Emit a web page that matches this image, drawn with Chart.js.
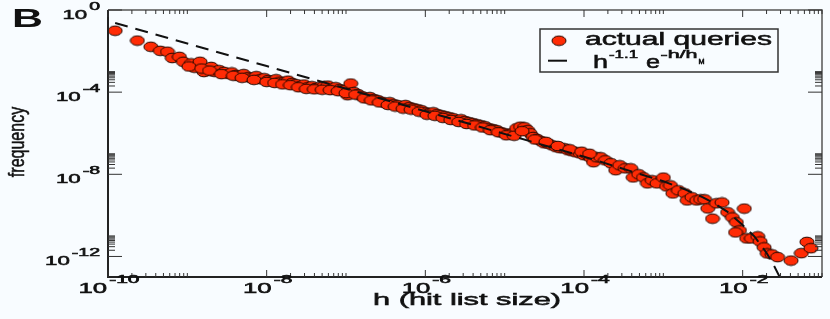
<!DOCTYPE html>
<html>
<head>
<meta charset="utf-8">
<script src="https://cdn.jsdelivr.net/npm/chart.js@4.4.1/dist/chart.umd.min.js"></script>
<style>
  html, body { margin: 0; padding: 0; background: #f8fcff; }
</style>
</head>
<body>
<canvas id="myChart" width="830" height="319"></canvas>
<script>
// values, as log10 of the axis values
const logHitSize = [
    -9.91, -9.63, -9.46, -9.34, -9.25, -9.19, -9.10, -9.05, -8.95, -8.91,
    -8.84, -8.79, -8.70, -8.66, -8.60, -8.54, -8.48, -8.44, -8.39, -8.35,
    -8.29, -8.23, -8.19, -8.13, -8.08, -8.03, -7.98, -7.93, -7.88, -7.83,
    -7.78, -7.73, -7.68, -7.63, -7.58, -7.53, -7.48, -7.43, -7.38, -7.33,
    -7.28, -7.23, -7.18, -7.13, -7.08, -7.03, -6.98, -6.94, -6.90, -6.85,
    -6.80, -6.75, -6.70, -6.65, -6.60, -6.55, -6.50, -6.45, -6.40, -6.35,
    -6.30, -6.25, -6.20, -6.15, -6.10, -6.05, -6.00, -5.95, -5.90, -5.85,
    -5.80, -5.75, -5.70, -5.65, -5.60, -5.55, -5.50, -5.45, -5.40, -5.35,
    -5.30, -5.25, -5.20, -5.15, -5.10, -5.05, -5.00, -4.95, -4.90, -4.85,
    -4.80, -4.75, -4.71, -4.68, -4.64, -4.59, -4.54, -4.50, -4.45, -4.40,
    -4.35, -4.30, -4.25, -4.20, -4.15, -4.10, -4.05, -4.00, -3.95, -3.91,
    -3.88, -3.84, -3.79, -3.73, -3.66, -3.60, -3.55, -3.48, -3.41, -3.38,
    -3.31, -3.25, -3.20, -3.14, -3.08, -3.00, -2.96, -2.91, -2.88, -2.81,
    -2.73, -2.70, -2.64, -2.58, -2.53, -2.48, -2.44, -2.38, -2.33, -2.26,
    -2.19, -2.13, -2.08, -2.04, -2.09, -1.98, -1.95, -1.89, -1.81, -1.78,
    -1.73, -1.69, -1.63, -1.56, -1.39, -1.26, -1.19, -1.14,
    -8.98, -8.82, -8.72, -8.57, -8.42, -8.31, -8.16, -8.00, -7.90, -7.80,
    -7.70, -7.60, -7.50, -7.40, -7.30, -7.20, -7.10, -7.00, -6.88, -6.77,
    -6.68, -6.58, -6.47, -6.38, -6.28, -6.18, -6.08, -5.98, -5.88, -5.78,
    -5.68, -5.58, -5.48, -5.38, -5.28, -5.18, -5.08, -4.98, -4.88, -4.78,
    -4.62, -4.48, -4.33, -4.18, -4.03, -3.93
];
const logFrequency = [
    -1.01, -1.49, -1.79, -1.99, -2.03, -2.34, -2.28, -2.52, -2.60, -2.81,
    -2.52, -3.02, -2.77, -3.01, -2.93, -3.01, -3.12, -3.04, -3.17, -3.22,
    -3.12, -3.27, -3.32, -3.22, -3.37, -3.32, -3.41, -3.46, -3.37, -3.49,
    -3.51, -3.44, -3.56, -3.61, -3.71, -3.63, -3.76, -3.71, -3.80, -3.76,
    -3.71, -3.68, -3.83, -3.76, -3.85, -3.90, -4.15, -3.58, -4.00, -4.10,
    -4.20, -4.28, -4.24, -4.34, -4.39, -4.47, -4.54, -4.49, -4.59, -4.63,
    -4.72, -4.63, -4.73, -4.78, -4.83, -4.88, -4.98, -5.02, -4.98, -5.07,
    -5.12, -5.17, -5.22, -5.27, -5.37, -5.32, -5.41, -5.46, -5.51, -5.56,
    -5.61, -5.66, -5.76, -5.80, -5.85, -5.95, -6.00, -6.05, -6.00, -5.76,
    -5.68, -5.71, -5.85, -6.00, -6.18, -6.29, -6.39, -6.49, -6.51, -6.59,
    -6.68, -6.73, -6.73, -6.83, -6.88, -6.93, -6.98, -7.07, -7.07, -7.22,
    -7.41, -7.17, -7.17, -7.32, -7.46, -7.80, -7.56, -7.71, -7.71, -8.15,
    -8.00, -8.15, -8.44, -8.29, -8.44, -8.16, -8.59, -8.54, -8.93, -8.78,
    -8.93, -9.27, -9.12, -9.27, -9.22, -9.22, -9.66, -10.16, -9.41, -9.37,
    -9.85, -10.10, -10.34, -10.73, -10.83, -9.67, -11.12, -11.12, -11.02, -11.27,
    -11.56, -11.85, -11.90, -12.03, -12.20, -11.84, -11.29, -11.60,
    -2.75, -2.85, -2.95, -3.12, -3.20, -3.30, -3.40, -3.50, -3.55, -3.62,
    -3.66, -3.76, -3.84, -3.86, -3.88, -3.90, -3.95, -4.05, -4.12, -4.30,
    -4.40, -4.50, -4.62, -4.70, -4.80, -4.85, -4.95, -5.10, -5.15, -5.25,
    -5.35, -5.45, -5.55, -5.62, -5.72, -5.85, -5.95, -6.10, -6.12, -5.90,
    -6.30, -6.42, -6.62, -6.78, -6.90, -7.00
];
// dashed fit h^-1.1 e^-h/hM
const fitLogHitSize = [-9.91, -8, -6, -4, -3, -2.75, -2.5, -2.35, -2.2, -2, -1.85, -1.7, -1.6, -1.52];
const fitLogFrequency = [-0.63, -2.73, -4.93, -7.14, -8.34, -8.70, -9.12, -9.44, -9.80, -10.47, -11.03, -11.82, -12.49, -13.10];

const xTickExponents = [-10, -8, -6, -4, -2];
const yTickExponents = [0, -4, -8, -12];
const minorSteps = [2, 3, 4, 5, 6, 7, 8, 9, 10];

const seriesLabel = 'actual queries';
const xTitle = 'h (hit list size)';
const yTitle = 'frequency';
const panelLetter = 'B';

const RED = '#ff2b05';
const BG = '#f8fcff';
const FONT = '"Liberation Sans", Arial, Helvetica, sans-serif';

// points in the picture are wider than tall
function makeMarker(rx, ry) {
    const c = document.createElement('canvas');
    c.width = Math.ceil(rx * 2 + 2);
    c.height = Math.ceil(ry * 2 + 2);
    const g = c.getContext('2d');
    g.beginPath();
    g.ellipse(c.width / 2, c.height / 2, rx, ry, 0, 0, Math.PI * 2);
    g.fillStyle = RED;
    g.fill();
    g.lineWidth = 1;
    g.strokeStyle = '#200800';
    g.stroke();
    return c;
}
const marker = makeMarker(7, 4.8);

// the whole figure is stretched sideways, text too
function stretchText(ctx, text, x, y, size, sx, weight) {
    ctx.save();
    ctx.font = (weight || 'normal') + ' ' + size + 'px ' + FONT;
    const w = ctx.measureText(text).width * sx;
    ctx.translate(x, y);
    ctx.scale(sx, 1);
    ctx.textAlign = 'left';
    ctx.textBaseline = 'alphabetic';
    ctx.fillStyle = '#111';
    ctx.strokeStyle = '#111';
    ctx.lineWidth = 0.55;
    ctx.fillText(text, 0, 0);
    if (!weight) ctx.strokeText(text, 0, 0);
    ctx.restore();
    return w;
}

function fitWidth(ctx, text, x, y, size, width, weight) {
    ctx.font = (weight || 'normal') + ' ' + size + 'px ' + FONT;
    const sx = width / ctx.measureText(text).width;
    return stretchText(ctx, text, x, y, size, sx, weight);
}

function powerLabel(ctx, exp, anchorX, baseY, align, mainSize, supSize, sx, supSx) {
    ctx.font = mainSize + 'px ' + FONT;
    const w1 = ctx.measureText('10').width * sx;
    ctx.font = supSize + 'px ' + FONT;
    const w2 = ctx.measureText(String(exp)).width * supSx;
    const total = w1 + 2 + w2;
    const left = align === 'center' ? anchorX - total / 2 : anchorX - total;
    stretchText(ctx, '10', left, baseY, mainSize, sx);
    stretchText(ctx, String(exp), left + w1 + 2, baseY - 9.5, supSize, supSx);
}

const framePlugin = {
    id: 'frame',
    beforeDraw(chart) {
        const ctx = chart.ctx;
        ctx.save();
        ctx.fillStyle = BG;
        ctx.fillRect(0, 0, chart.width, chart.height);
        ctx.restore();
    },
    afterDraw(chart) {
        const ctx = chart.ctx;
        const a = chart.chartArea;
        const xs = chart.scales.x, ys = chart.scales.y;
        ctx.save();

        // box
        ctx.strokeStyle = '#555';
        ctx.lineWidth = 1.5;
        ctx.beginPath();
        ctx.moveTo(a.left, a.top); ctx.lineTo(a.right, a.top); ctx.lineTo(a.right, a.bottom);
        ctx.stroke();
        ctx.strokeStyle = '#222';
        ctx.lineWidth = 2;
        ctx.beginPath();
        ctx.moveTo(a.left, a.top); ctx.lineTo(a.left, a.bottom); ctx.lineTo(a.right, a.bottom);
        ctx.stroke();

        // ticks, pointing inward, on all four sides
        ctx.lineWidth = 1;
        ctx.strokeStyle = '#333';
        xTickExponents.forEach(e => {
            const major = xs.getPixelForValue(Math.pow(10, e));
            ctx.beginPath();
            ctx.moveTo(major, a.bottom); ctx.lineTo(major, a.bottom - 7);
            ctx.moveTo(major, a.top); ctx.lineTo(major, a.top + 7);
            ctx.stroke();
            minorSteps.forEach(m => {
                const px = xs.getPixelForValue(m * Math.pow(10, e));
                if (px > a.right) return;
                ctx.beginPath();
                ctx.moveTo(px, a.bottom); ctx.lineTo(px, a.bottom - 4);
                ctx.moveTo(px, a.top); ctx.lineTo(px, a.top + 4);
                ctx.stroke();
            });
        });
        yTickExponents.forEach(e => {
            const major = ys.getPixelForValue(Math.pow(10, e));
            ctx.beginPath();
            ctx.moveTo(a.left, major); ctx.lineTo(a.left + 14, major);
            ctx.moveTo(a.right, major); ctx.lineTo(a.right - 14, major);
            ctx.stroke();
            minorSteps.forEach(m => {
                const py = ys.getPixelForValue(m * Math.pow(10, e));
                if (py < a.top) return;
                ctx.beginPath();
                ctx.moveTo(a.left, py); ctx.lineTo(a.left + 7, py);
                ctx.moveTo(a.right, py); ctx.lineTo(a.right - 7, py);
                ctx.stroke();
            });
        });

        // tick labels
        xTickExponents.forEach(e => {
            powerLabel(ctx, e, xs.getPixelForValue(Math.pow(10, e)) + 1, a.bottom + 15.5, 'center', 15, 10, 1.72, 2.1);
        });
        yTickExponents.forEach(e => {
            powerLabel(ctx, e, 100, ys.getPixelForValue(Math.pow(10, e)) + 9, 'right', 13.5, 10, 1.65, 1.95);
        });

        // axis titles
        const xw = 188;
        fitWidth(ctx, xTitle, (a.left + a.right) / 2 + 2 - xw / 2, 305, 16, xw);

        ctx.save();
        ctx.translate(23.5, 142);
        ctx.scale(1.4, 1);
        ctx.rotate(-Math.PI / 2);
        ctx.font = '16px ' + FONT;
        ctx.fillStyle = '#111';
        ctx.strokeStyle = '#111';
        ctx.lineWidth = 0.4;
        ctx.textAlign = 'center';
        ctx.textBaseline = 'alphabetic';
        ctx.fillText(yTitle, 0, 0);
        ctx.strokeText(yTitle, 0, 0);
        ctx.restore();

        fitWidth(ctx, panelLetter, 12, 27, 26, 31, 'bold');

        // legend
        ctx.fillStyle = BG;
        ctx.fillRect(540, 29, 238, 43);
        ctx.strokeStyle = '#333';
        ctx.lineWidth = 1.5;
        ctx.strokeRect(540, 29, 238, 43);
        ctx.drawImage(marker, 559 - marker.width / 2, 40.7 - marker.height / 2);
        fitWidth(ctx, seriesLabel, 585, 45, 18, 187);
        ctx.strokeStyle = '#111';
        ctx.lineWidth = 2;
        ctx.beginPath();
        ctx.moveTo(548, 60.7); ctx.lineTo(567, 60.7);
        ctx.stroke();
        fitWidth(ctx, 'h', 593, 68.3, 18, 15);
        fitWidth(ctx, '-1.1', 609, 58.3, 11, 29);
        fitWidth(ctx, 'e', 646, 68.3, 18, 14);
        fitWidth(ctx, '-h/h', 660.5, 58.3, 11, 37);
        fitWidth(ctx, 'M', 698.5, 64, 7, 6);

        ctx.restore();
    }
};

const points = logHitSize.map((lh, i) => ({ x: Math.pow(10, lh), y: Math.pow(10, logFrequency[i]) }));
const fitPoints = fitLogHitSize.map((lh, i) => ({ x: Math.pow(10, lh), y: Math.pow(10, fitLogFrequency[i]) }));

const config = {
    type: 'scatter',
    data: {
        datasets: [{
            label: 'h^-1.1 e^-h/hM',
            type: 'line',
            data: fitPoints,
            borderColor: '#111',
            borderWidth: 2,
            borderDash: [13, 8],
            pointRadius: 0,
            fill: false,
            tension: 0
        }, {
            label: seriesLabel,
            data: points,
            pointStyle: marker,
            pointRadius: 7,
            backgroundColor: RED,
            borderColor: '#200800'
        }]
    },
    options: {
        responsive: false,
        animation: false,
        layout: { padding: { left: 108, right: 3, top: 10, bottom: 42 } },
        scales: {
            x: { type: 'logarithmic', min: 1e-10, max: 0.1, display: false },
            y: { type: 'logarithmic', min: 1e-13, max: 1, display: false }
        },
        plugins: {
            legend: { display: false },
            tooltip: { enabled: false }
        }
    },
    plugins: [framePlugin]
};

const myChart = new Chart(document.getElementById('myChart'), config);
</script>
</body>
</html>
